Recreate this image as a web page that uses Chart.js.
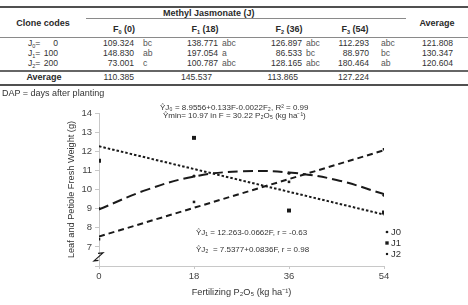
<!DOCTYPE html>
<html><head><meta charset="utf-8">
<script src="https://cdn.jsdelivr.net/npm/chart.js@4/dist/chart.umd.min.js"></script>
<style>
html,body{margin:0;padding:0;background:#fff}
body{width:468px;height:305px;overflow:hidden;position:relative;font-family:"Liberation Sans",Arial,sans-serif;color:#333}
.t{position:absolute;white-space:nowrap;line-height:1;font-size:8.6px}
.b{font-weight:bold;font-size:9px;color:#2a2a2a}
.g{color:#555}
.t sub{font-size:5.5px;vertical-align:-2px;line-height:0}
.rule{position:absolute;left:0;width:468px;background:#777;height:1px}
#wrap{position:absolute;left:0;top:96px;width:468px;height:209px}
</style>
</head><body>
<div id="wrap"><canvas id="c" width="468" height="209"></canvas></div>
<script>
// ---------- table data ----------
const cloneDoses = ["0", "100", "200"];
const cloneSubs = ["0", "1", "2"];
const fertLevels = [0, 18, 36, 54];
const f0Values = [109.324, 148.830, 73.001];
const f0Letters = ["bc", "ab", "c"];
const f1Values = [138.771, 197.054, 100.787];
const f1Letters = ["abc", "a", "abc"];
const f2Values = [126.897, 86.533, 128.165];
const f2Letters = ["abc", "bc", "abc"];
const f3Values = [112.293, 88.970, 180.464];
const f3Letters = ["abc", "bc", "ab"];
const cloneAverages = [121.808, 130.347, 120.604];
const doseAverages = [110.385, 145.537, 113.865, 127.224];

// ---------- chart data ----------
const xTickValues = [0, 18, 36, 54];
const j0Observed = [9.0, 10.7, 10.85, 9.7];
const j1Observed = [11.5, 12.7, 8.9, 8.8];
const j2Observed = [7.4, 9.35, 10.4, 12.1];
const j0TrendX = [0, 9, 18, 27, 36, 45, 54];
const j0TrendY = [8.96, 9.98, 10.68, 10.95, 10.89, 10.5, 9.76];
const j1TrendX = [0, 54];
const j1TrendY = [12.26, 8.69];
const j2TrendX = [0, 54];
const j2TrendY = [7.54, 12.05];
const seriesLabels = ["J0", "J1", "J2"];
const equationTop = ["ŶJ₀ = 8.9556+0.133F-0.0022F₂, R² = 0.99", "Ŷmin= 10.97 in F = 30.22 P₂O₅ (kg ha⁻¹)"];
const equationBottom = ["ŶJ₁ = 12.263-0.0662F, r = -0.63", "ŶJ₂  = 7.5377+0.0836F, r = 0.98"];

// ---------- table drawing ----------
function put(html, x, y, align, cls) {
  const d = document.createElement('div');
  d.className = 't ' + (cls || '');
  d.innerHTML = html;
  d.style.top = y + 'px';
  if (align === 'left') { d.style.left = x + 'px'; d.style.transform = 'translateY(-50%)'; }
  else if (align === 'right') { d.style.right = (468 - x) + 'px'; d.style.transform = 'translateY(-50%)'; }
  else { d.style.left = x + 'px'; d.style.transform = 'translate(-50%,-50%)'; }
  document.body.appendChild(d);
}
function rule(y, h, x0, x1, col) {
  const d = document.createElement('div');
  d.className = 'rule';
  d.style.top = y + 'px'; d.style.height = h + 'px';
  d.style.left = x0 + 'px'; d.style.width = (x1 - x0) + 'px';
  d.style.background = col;
  document.body.appendChild(d);
}
rule(6, 2, 0, 468, '#505050');
rule(18, 1, 86, 406, '#8a8a8a');
rule(37, 1, 0, 468, '#8a8a8a');
rule(70, 1.5, 0, 468, '#666');
rule(84, 2, 0, 468, '#505050');

put('Methyl Jasmonate (J)', 163, 13, 'left', 'b');
put('Clone codes', 43, 23, 'center', 'b');
put('Average', 437, 23, 'center', 'b');
const fCenters = [124, 205, 289, 355];
fertLevels.forEach((f, i) => put('F<sub>' + i + '</sub> (' + f + ')', fCenters[i], 29, 'center', 'b'));

const rowY = [43, 53, 63];
const valRight = [134, 218, 302, 369];
const letLeft = [143, 222, 306, 381];
const valueCols = [f0Values, f1Values, f2Values, f3Values];
const letterCols = [f0Letters, f1Letters, f2Letters, f3Letters];
cloneDoses.forEach((d, r) => {
  put('J<sub>' + cloneSubs[r] + '</sub>=', 28, rowY[r], 'left');
  put(d, 58, rowY[r], 'right');
  valueCols.forEach((col, c) => {
    put(col[r].toFixed(3), valRight[c], rowY[r], 'right');
    put(letterCols[c][r], letLeft[c], rowY[r], 'left', 'g');
  });
  put(cloneAverages[r].toFixed(3), 453, rowY[r], 'right');
});
put('Average', 44, 77, 'center', 'b');
const avgRight = [134, 212, 298, 369];
doseAverages.forEach((v, c) => put(v.toFixed(3), avgRight[c], 77, 'right'));
put('DAP = days after planting', 2, 93, 'left', '');
document.body.lastChild.style.fontSize = '9px';

// ---------- chart ----------
const pts = (xs, ys) => xs.map((x, i) => ({ x: x, y: ys[i] }));
const ink = '#1a1a1a';
const FONT = '"Liberation Sans", Arial, sans-serif';

const extras = {
  id: 'extras',
  afterDraw(chart) {
    const ctx = chart.ctx, a = chart.chartArea;
    const xs = chart.scales.x, ys = chart.scales.y;
    ctx.save();
    // axis break
    const bx = xs.getPixelForValue(0), by = ys.getPixelForValue(6.45);
    ctx.strokeStyle = ink; ctx.lineWidth = 1.2;
    ctx.beginPath();
    ctx.moveTo(bx - 1, by - 4); ctx.lineTo(bx + 4, by - 4.5);
    ctx.lineTo(bx - 5, by + 3.5); ctx.lineTo(bx - 0.5, by + 3);
    ctx.stroke();
    // equations
    ctx.fillStyle = '#333';
    ctx.font = '8px ' + FONT;
    ctx.textBaseline = 'middle'; ctx.textAlign = 'left';
    ctx.fillText(equationTop[0], a.left + 61, a.top - 5);
    ctx.fillText(equationTop[1], a.left + 64, a.top + 3);
    ctx.fillText(equationBottom[0], a.left + 97, a.bottom - 33);
    ctx.fillText(equationBottom[1], a.left + 97, a.bottom - 16);
    // legend
    ctx.font = '9.5px ' + FONT;
    ctx.fillStyle = '#333';
    chart.data.datasets.forEach((ds, i) => {
      if (!ds.isSeries) return;
      const ly = a.bottom - 34 + ds.legendIndex * 11;
      ctx.fillStyle = ink;
      Chart.helpers.drawPoint(ctx, { pointStyle: ds.pointStyle, radius: ds.pointRadius * 0.85, rotation: 0, borderWidth: 0 }, a.right + 3, ly);
      ctx.fillStyle = '#333';
      ctx.fillText(ds.label, a.right + 7, ly);
    });
    ctx.restore();
  }
};

new Chart(document.getElementById('c'), {
  type: 'scatter',
  data: {
    datasets: [
      { label: 'J0 trend', data: pts(j0TrendX, j0TrendY), showLine: true, pointRadius: 0, borderColor: ink, borderWidth: 2, borderDash: [10, 5], tension: 0.4, fill: false },
      { label: 'J1 trend', data: pts(j1TrendX, j1TrendY), showLine: true, pointRadius: 0, borderColor: ink, borderWidth: 2, borderDash: [2.5, 2], fill: false },
      { label: 'J2 trend', data: pts(j2TrendX, j2TrendY), showLine: true, pointRadius: 0, borderColor: ink, borderWidth: 2, borderDash: [6, 4], fill: false },
      { label: seriesLabels[0], isSeries: true, legendIndex: 0, data: pts(xTickValues, j0Observed), pointStyle: 'circle', pointRadius: 1.6, backgroundColor: ink, borderWidth: 0 },
      { label: seriesLabels[1], isSeries: true, legendIndex: 1, data: pts(xTickValues, j1Observed), pointStyle: 'rect', pointRadius: 2.8, backgroundColor: ink, borderWidth: 0 },
      { label: seriesLabels[2], isSeries: true, legendIndex: 2, data: pts(xTickValues, j2Observed), pointStyle: 'rect', pointRadius: 1.8, backgroundColor: ink, borderWidth: 0 }
    ]
  },
  options: {
    responsive: false, animation: false,
    layout: { padding: { left: 66, right: 84, top: 17, bottom: 0 } },
    plugins: { legend: { display: false }, tooltip: { enabled: false } },
    scales: {
      x: {
        type: 'linear', min: 0, max: 54,
        afterBuildTicks: s => { s.ticks = xTickValues.map(v => ({ value: v })); },
        afterFit: s => { s.height = 39; },
        grid: { drawOnChartArea: false, tickLength: 3, color: '#c8c8c8' },
        border: { color: '#c8c8c8' },
        ticks: { color: '#444', font: { size: 9.5, family: FONT }, padding: 2, maxRotation: 0 },
        title: { display: true, text: 'Fertilizing P₂O₅ (kg ha⁻¹)', color: '#333', font: { size: 9.2, family: FONT }, padding: { top: 0, bottom: 7 } }
      },
      y: {
        min: 6, max: 14,
        afterFit: s => { s.width = 33; },
        grid: { drawOnChartArea: false, tickLength: 4, color: '#c8c8c8' },
        border: { color: '#c8c8c8' },
        ticks: { stepSize: 1, color: '#444', font: { size: 9.5, family: FONT }, padding: 3, callback: v => (v >= 7 ? v : '') },
        title: { display: true, text: 'Leaf and Petiole Fresh Weight (g)', color: '#333', font: { size: 9.2, family: FONT }, padding: 0 }
      }
    }
  },
  plugins: [extras]
});
</script>
</body></html>
